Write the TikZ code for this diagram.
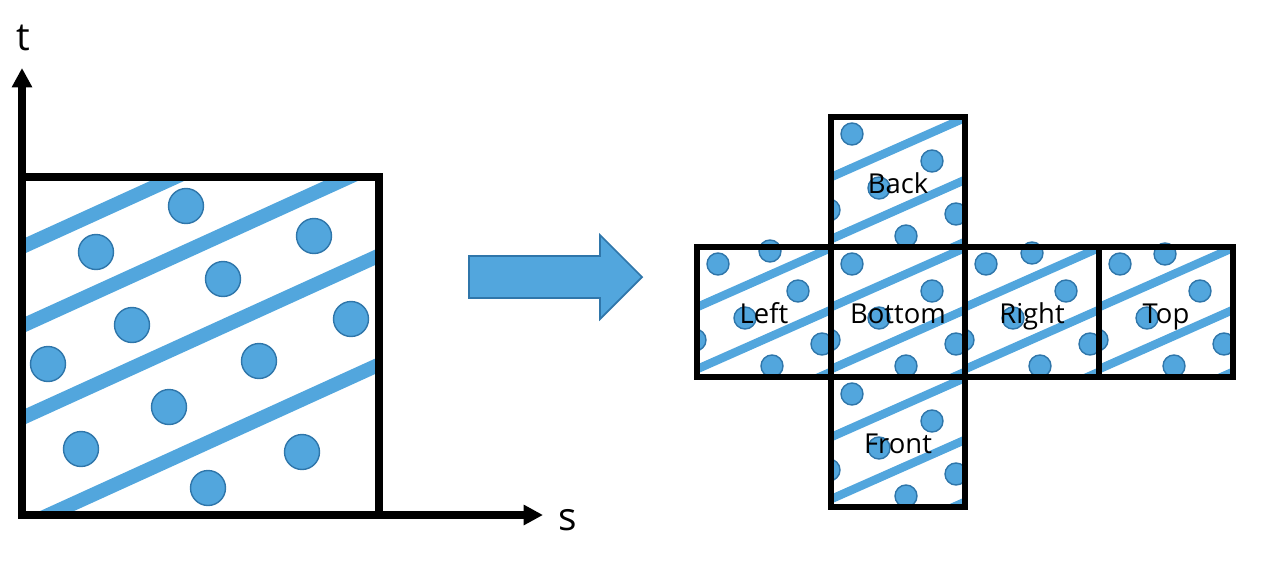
\documentclass[tikz,border=0pt]{standalone}
\usepackage{fontspec}
\setmainfont{Open Sans}
\usepackage{tikz}
\usetikzlibrary{arrows.meta}
\definecolor{dotblue}{RGB}{82,166,221}
\definecolor{dotedge}{RGB}{47,118,170}
\tikzset{
  dot/.style={fill=dotblue,draw=dotedge,line width=0.8pt},
  bigstripe/.style={draw=dotblue,line width=8pt},
  facestripe/.style={draw=dotblue,line width=4.8pt},
  frame/.style={line width=4.2pt},
  axis/.style={line width=4.2pt,line join=miter,{Triangle[length=11pt,width=11pt]}-{Triangle[length=11pt,width=11pt]}},
  bigarrow/.style={fill=dotblue,draw=dotedge,line width=1pt},
  face/.style={draw,line width=3.4pt,minimum width=26.8mm,minimum height=26mm,inner sep=0pt,
    text height=14.8pt,text depth=2pt,font=\fontsize{15.6}{18}\selectfont},
  axislabel/.style={inner sep=0pt,font=\fontsize{22}{26}\selectfont}
}
\newcommand{\facepattern}[2]{%
  \begin{scope}[shift={(#1,#2)}]
    \clip (-2,-2) rectangle (136,132);
    \draw[facestripe] (-20,69) -- (154,-8);
    \draw[facestripe] (-20,131) -- (154,54);
    \draw[facestripe] (-20,193) -- (154,116);
    \draw[dot] (21,17) circle (11);
    \draw[dot] (101,44) circle (11);
    \draw[dot] (48,71) circle (11);
    \draw[dot] (125,97) circle (11);
    \draw[dot] (75,119) circle (11);
    \draw[dot] (-2,93) circle (11);
  \end{scope}}

\begin{document}
\begin{tikzpicture}[x=0.2mm,y=-0.2mm]
        \useasboundingbox (0,0) rectangle (1269,578);
        \def\xmin{22} \def\xmax{379}
        \def\ymin{515} \def\ymax{177}
        \def\rbig{17.5}

        \begin{scope}
          \clip (\xmin,\ymax) rectangle (\xmax,\ymin);
          \draw[bigstripe] (0,257) -- (400,75);
          \draw[bigstripe] (0,336) -- (400,154);
          \draw[bigstripe] (0,428) -- (400,246);
          \draw[bigstripe] (0,537) -- (400,355);
          \draw[dot] (186,206) circle (\rbig);
          \draw[dot] (96,252) circle (\rbig);
          \draw[dot] (314,236) circle (\rbig);
          \draw[dot] (223,279) circle (\rbig);
          \draw[dot] (132,325) circle (\rbig);
          \draw[dot] (351,319) circle (\rbig);
          \draw[dot] (48,364) circle (\rbig);
          \draw[dot] (259,361) circle (\rbig);
          \draw[dot] (169,407) circle (\rbig);
          \draw[dot] (81,449) circle (\rbig);
          \draw[dot] (302,452) circle (\rbig);
          \draw[dot] (208,488) circle (\rbig);
        \end{scope}
        \draw[frame] (\xmin,\ymax) rectangle (\xmax,\ymin);

        \coordinate (O) at (\xmin,\ymin);
        \coordinate (tTip) at (\xmin,68);
        \coordinate (sTip) at (543,\ymin);
        \draw[axis] (tTip) -- (O) -- (sTip);
        \node[axislabel] (tLabel) at (23,38) {t};
        \node[axislabel] (sLabel) at (568,520) {s};

        \draw[bigarrow] (469,256) -- (600,256) -- (600,235) -- (642,277) -- (600,319) -- (600,298) -- (469,298) -- cycle;

        \facepattern{831}{117}
        \facepattern{697}{247}
        \facepattern{831}{247}
        \facepattern{965}{247}
        \facepattern{1099}{247}
        \facepattern{831}{377}
        \draw[dot] (770,251) circle (11);
        \draw[dot] (1032,253) circle (11);
        \draw[dot] (1165,254) circle (11);

        \node[face] (back) at (898,182) {Back};
        \node[face] (left) at (764,312) {Left};
        \node[face] (bottom) at (898,312) {Bottom};
        \node[face] (right) at (1032,312) {Right};
        \node[face] (top) at (1166,312) {Top};
        \node[face] (front) at (898,442) {Front};
\end{tikzpicture}
\end{document}
